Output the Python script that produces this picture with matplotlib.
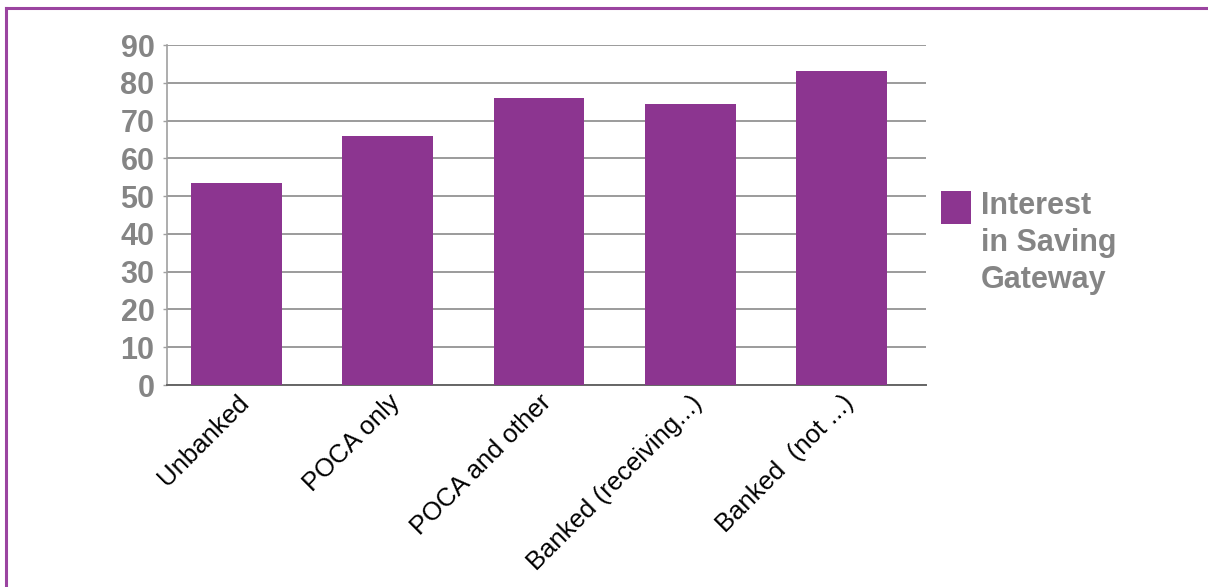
import matplotlib
matplotlib.use('Agg')
import matplotlib.pyplot as plt
from matplotlib.patches import Rectangle
from matplotlib.lines import Line2D

plt.rcParams['font.family'] = ['Liberation Sans', 'DejaVu Sans']

# data
categories = ['Unbanked', 'POCA only', 'POCA and other',
              'Banked (receiving...)', 'Banked  (not ...)']
values = [53.5, 66.0, 76.0, 74.5, 83.0]
y_ticks = list(range(0, 91, 10))
series_name = 'Interest\nin Saving\nGateway'

purple = '#8C3590'
grey_text = '#858585'
grid_grey = '#8a8a8a'

fig = plt.figure(figsize=(12.08, 5.87), dpi=100)
ax = fig.add_axes([0.1382, 0.3441, 0.6284, 0.5792])

x = range(len(categories))
ax.bar(x, values, width=0.6, color=purple, zorder=3)

ax.set_xlim(-0.46, len(categories) - 0.44)
ax.set_ylim(0, 90)
ax.set_yticks(y_ticks)
ax.set_yticklabels([str(t) for t in y_ticks], fontsize=22,
                   fontweight='bold', color=grey_text)
ax.set_xticks(list(x))
ax.set_xticklabels(categories, rotation=45, ha='right',
                   rotation_mode='anchor', fontsize=18.5, color='black')

ax.yaxis.grid(True, color=grid_grey, linewidth=1.2, zorder=0)
for s in ['top', 'right']:
    ax.spines[s].set_visible(False)
ax.spines['left'].set_color('#a0a0a0')
ax.spines['left'].set_linewidth(1.2)
ax.spines['bottom'].set_color('#666666')
ax.spines['bottom'].set_linewidth(1.4)
ax.tick_params(axis='y', length=3, width=1, color='#a0a0a0', pad=6)
ax.tick_params(axis='x', length=0, pad=4)

# legend drawn by hand: square aligned with first line
fig.patches.append(Rectangle((941 / 1208, 1 - 224 / 587), 30 / 1208, 33 / 587,
                             transform=fig.transFigure, facecolor=purple,
                             edgecolor='none'))
fig.text(981 / 1208, 1 - 191 / 587, series_name, fontsize=22,
         fontweight='bold', color=grey_text, va='top', ha='left',
         linespacing=1.3)

# purple frame (top and left edges visible)
fig.add_artist(Line2D([6 / 1208, 1.0], [1 - 8 / 587, 1 - 8 / 587],
                      transform=fig.transFigure, color='#9B44A0', linewidth=2.2))
fig.add_artist(Line2D([6 / 1208, 6 / 1208], [0.0, 1 - 8 / 587],
                      transform=fig.transFigure, color='#9B44A0', linewidth=2.2))

fig.savefig('out.png', dpi=100)
